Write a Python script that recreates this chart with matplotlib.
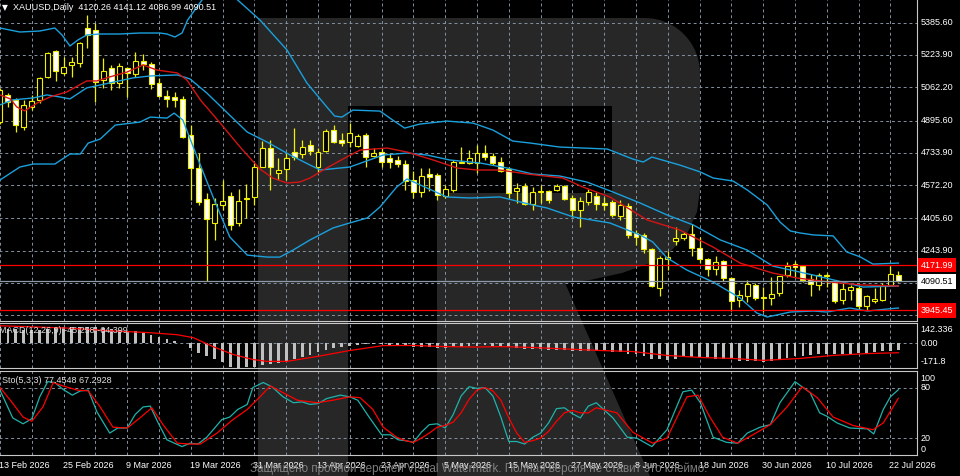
import numpy as np
import matplotlib
matplotlib.use("Agg")
import matplotlib.pyplot as plt
from matplotlib.patches import Polygon

plt.rcParams['font.family'] = ['Liberation Sans', 'DejaVu Sans']

# ---- candles XAUUSD daily (bar 0 = 13 Feb 2026) ----
opens = [4889, 5024, 4999, 4864, 4965, 4999, 5114, 5244, 5134, 5174,
         5184, 5359, 5349, 5099, 5159, 5084, 5159, 5129, 5195, 5179,
         5085, 5020, 5014, 5004, 4824, 4659, 4504, 4384, 4474, 4520,
         4384, 4504, 4514, 4665, 4760, 4634, 4654, 4740, 4729, 4774,
         4664, 4745, 4849, 4799, 4790, 4769, 4824, 4720, 4740, 4709,
         4699, 4679, 4599, 4540, 4627, 4624, 4519, 4549, 4685, 4682,
         4684, 4735, 4719, 4690, 4652, 4544, 4569, 4479, 4539, 4545,
         4549, 4569, 4507, 4449, 4490, 4519, 4485, 4490, 4420, 4469,
         4334, 4324, 4252, 4057, 4204, 4294, 4307, 4329, 4257, 4202,
         4150, 4192, 4108, 3999, 4019, 4074, 4010, 4007, 4031, 4124,
         4177, 4165, 4102, 4070, 4119, 4085, 3995, 4045, 4057, 3969,
         3990, 3999, 4074, 4120.26]
highs = [5059, 5034, 5009, 4999, 5024, 5115, 5240, 5249, 5215, 5215,
         5290, 5424, 5384, 5209, 5174, 5184, 5165, 5240, 5229, 5190,
         5109, 5049, 5040, 5019, 4874, 4734, 4534, 4509, 4599, 4540,
         4554, 4579, 4684, 4794, 4799, 4709, 4734, 4859, 4799, 4799,
         4759, 4854, 4874, 4835, 4884, 4829, 4834, 4759, 4759, 4734,
         4719, 4699, 4644, 4659, 4659, 4634, 4574, 4699, 4764, 4749,
         4774, 4774, 4734, 4715, 4665, 4585, 4584, 4565, 4574, 4549,
         4577, 4574, 4524, 4515, 4554, 4540, 4515, 4499, 4499, 4484,
         4349, 4334, 4259, 4215, 4240, 4364, 4340, 4379, 4312, 4207,
         4215, 4199, 4114, 4046, 4099, 4084, 4061, 4114, 4119, 4185,
         4194, 4174, 4129, 4132, 4134, 4099, 4089, 4074, 4065, 4024,
         4057, 4082, 4165, 4141.12]
lows = [4879, 4964, 4839, 4849, 4949, 4984, 5110, 5094, 5124, 5115,
        5165, 5259, 4989, 5059, 5049, 5059, 5015, 5115, 5149, 5054,
        5014, 4965, 4965, 4809, 4499, 4474, 4090, 4299, 4449, 4349,
        4369, 4409, 4474, 4664, 4549, 4599, 4599, 4699, 4709, 4724,
        4640, 4740, 4784, 4769, 4765, 4764, 4665, 4714, 4664, 4659,
        4665, 4549, 4509, 4514, 4544, 4499, 4509, 4540, 4684, 4679,
        4635, 4699, 4674, 4640, 4507, 4484, 4474, 4449, 4484, 4484,
        4544, 4499, 4412, 4365, 4474, 4449, 4449, 4415, 4399, 4307,
        4274, 4232, 4060, 4015, 4149, 4274, 4299, 4215, 4184, 4119,
        4124, 4094, 3944, 3961, 3986, 3999, 3935, 3974, 4019, 4112,
        4114, 4089, 4015, 4049, 4064, 3982, 3979, 3999, 3949, 3949,
        3982, 3990, 4065, 4086.99]
closes = [5049, 4989, 4874, 4974, 4995, 5109, 5234, 5144, 5165, 5190,
          5284, 5324, 5089, 5144, 5084, 5169, 5135, 5195, 5179, 5079,
          5019, 5004, 4999, 4814, 4659, 4490, 4404, 4479, 4495, 4374,
          4495, 4510, 4665, 4760, 4665, 4649, 4709, 4715, 4765, 4745,
          4740, 4844, 4789, 4784, 4834, 4819, 4715, 4735, 4687, 4690,
          4677, 4595, 4540, 4619, 4612, 4524, 4554, 4690, 4690, 4710,
          4734, 4712, 4685, 4645, 4532, 4557, 4479, 4540, 4545, 4499,
          4569, 4502, 4449, 4495, 4540, 4479, 4475, 4424, 4474, 4324,
          4315, 4252, 4065, 4207, 4210, 4310, 4327, 4257, 4204, 4150,
          4185, 4108, 3990, 4024, 4077, 4009, 4007, 4027, 4115, 4169,
          4162, 4099, 4077, 4124, 4124, 3994, 4052, 4060, 3966, 4015,
          4004, 4071, 4127, 4090.51]

# ---- Bollinger bands and moving average (bar index, price) ----
bb_up_idx = [0, 2.5, 5.0, 6.9, 7.8, 8.8, 9.8, 10.9, 12.6, 15.1, 17.6, 20.1, 21.0, 22.0, 22.9,
             23.6, 24.5, 25.4, 27.7, 29.9, 32.7, 36.1, 38.6, 41.1, 42.1, 43.0, 44.4, 47.8,
             49.4, 50.9, 52.8, 56.2, 59.5, 62.0, 64.5, 66.7, 70.4, 76.4, 79.6, 80.9, 82.0,
             85.5, 88.1, 89.7, 92.2, 94.0, 96.5, 98.1, 99.4, 100.6, 102.3, 104.8, 106.5,
             108.2, 109.8, 113]
bb_up_val = [5359, 5339, 5344, 5359, 5324, 5269, 5299, 5324, 5329, 5329, 5334, 5334, 5329, 5314, 5334,
             5399, 5449, 5499, 5574, 5499, 5399, 5249, 5084, 4964, 4918, 4913, 4948, 4943,
             4898, 4858, 4878, 4893, 4883, 4848, 4793, 4783, 4763, 4753, 4703, 4688, 4713,
             4673, 4638, 4608, 4593, 4548, 4473, 4388, 4343, 4333, 4323, 4318, 4238,
             4213, 4177, 4182]
bb_mid_idx = [0, 1.6, 4.2, 5.9, 7.5, 8.8, 10.9, 13.8, 16.7, 18.9, 22.3, 23.9, 26.0, 28.6, 31.1,
              33.6, 36.5, 39.0, 40.3, 44.0, 48.2, 51.2, 53.7, 56.6, 60.4, 63.8, 67.0, 70.4,
              73.8, 77.1, 80.5, 83.9, 87.2, 90.6, 94.0, 97.2, 102.3, 108.6, 113]
bb_mid_val = [4974, 4999, 5009, 5024, 5014, 5004, 5059, 5084, 5109, 5119, 5124, 5104, 5034, 4934, 4838,
              4788, 4723, 4673, 4648, 4663, 4723, 4733, 4723, 4698, 4683, 4658, 4628, 4618,
              4588, 4538, 4483, 4423, 4373, 4298, 4247, 4167, 4122, 4062, 4067]
bb_low_idx = [0, 2.5, 4.2, 6.9, 8.8, 10.1, 11.1, 12.6, 14.5, 17.6, 18.9, 21.0, 21.9, 23.0, 24.8,
              26.8, 28.9, 31.1, 33.6, 35.2, 36.9, 39.0, 41.9, 44.0, 46.2, 47.8, 49.9, 51.2,
              53.7, 56.2, 59.1, 62.9, 67.0, 68.8, 72.1, 76.7, 80.5, 82.1, 83.9, 86.4, 89.7,
              93.1, 95.2, 96.5, 97.7, 99.4, 102.3, 104.0, 106.9, 109.1, 111.6, 113]
bb_low_val = [4598, 4663, 4678, 4678, 4728, 4728, 4783, 4803, 4873, 4888, 4913, 4908, 4933, 4898, 4713,
              4513, 4313, 4222, 4212, 4212, 4248, 4298, 4358, 4383, 4408, 4463, 4563, 4603,
              4558, 4513, 4508, 4513, 4473, 4458, 4413, 4383, 4323, 4288, 4208, 4147, 4087,
              4007, 3932, 3912, 3922, 3937, 3942, 3937, 3957, 3942, 3952, 3957]
ma_idx = [0, 1.3, 2.1, 3.1, 4.7, 6.3, 8.4, 10.9, 12.2, 13.8, 16.0, 18.0, 19.7, 22.3, 23.5, 25.2,
          27.7, 30.2, 32.7, 34.3, 36.1, 37.7, 39.0, 41.1, 43.6, 45.3, 48.7, 51.2, 54.5, 57.5,
          60.0, 62.9, 66.3, 70.8, 73.3, 76.7, 81.4, 85.5, 89.7, 93.1, 97.2, 100.3, 104.4,
          108.6, 113]
ma_val = [5024, 5004, 4964, 4944, 4984, 5014, 5039, 5094, 5094, 5114, 5139, 5174, 5149, 5134, 5099, 4999,
          4883, 4763, 4653, 4608, 4583, 4588, 4608, 4658, 4713, 4748, 4758, 4738, 4698, 4658,
          4648, 4648, 4628, 4608, 4563, 4513, 4398, 4348, 4262, 4182, 4132, 4107, 4087,
          4072, 4067]

# ---- price levels ----
price_grid = [5385.60, 5223.90, 5062.20, 4895.60, 4733.90, 4572.20, 4405.60, 4243.90, 4082.20, 3920.50]
level_high = 4171.99
level_low = 3945.45
bid = 4090.51

# ---- MACD(12,26,9) ----
macd_hist = [98, 100, 97, 94, 92, 94, 100, 106, 110, 112, 114, 115, 110, 104, 98, 92, 88, 84, 72, 60,
             45, 32, 20, 5,
             -31, -65, -88, -111, -129, -160, -171.8, -165, -160, -150, -145, -135, -122, -108, -95,
             -78, -62, -45, -35, -24, -16, -9,
             -6, -5, -7, -9, -12, -17, -23, -25, -27, -31, -33, -28, -24, -20, -16, -14, -15, -18,
             -27, -32, -39, -41, -42, -45, -44, -46, -51, -52, -50, -52,
             -54, -61, -58, -76, -76, -88, -106, -111, -115, -106, -92, -92, -99, -99, -111, -111,
             -111, -122, -122, -122, -129, -122, -111, -99, -88, -88, -83, -76, -72, -76, -76, -76,
             -68, -64, -60, -55, -50, -45.258]
sig_idx = [0, 8.4, 13.8, 18.9, 22.3, 24.3, 26.8, 29.3, 31.8, 33.6, 36.1, 39.9, 44.0, 48.2, 52, 56,
           60, 63, 67, 71, 75.5, 79.6, 83.9, 88.1, 92.2, 96.0, 100.6, 104.8, 109.1, 113]
sig_val = [122, 106, 87, 74, 60, 40, -22, -76, -111, -124, -124, -90, -49, -15, -14, -22,
           -25, -22, -28, -38, -49, -56, -83, -97, -104, -117, -104, -83, -70, -64.399]
macd_max, macd_min = 142.336, -171.8

# ---- Stochastic(5,3,3) ----
sto_k_idx = [0, 1.6, 2.9, 4.0, 5.0, 6.0, 6.9, 7.9, 9.1, 10.1, 11.1, 12.2, 13.8, 14.8, 16.0, 17.0,
             18.0, 18.9, 19.9, 21.0, 22.9, 23.9, 24.9, 26.0, 27.9, 28.9, 29.9, 31.1, 31.8, 33.1,
             34.2, 35.6, 36.9, 38.0, 39.0, 40.0, 41.1, 42.8, 44.0, 45.0, 46.5, 48.0, 49.1, 50.1,
             51, 52, 53, 54, 55, 56, 57, 58, 59, 60, 61, 62, 63, 64, 65, 66, 67, 68, 69, 70, 71,
             72, 73, 74, 75,
             77.1, 78.9, 80.1, 82.0, 83.9, 85.9, 87.0, 88.1, 89.7, 91.4, 92.8, 94.0, 95.6, 96.9,
             98.1, 100.0, 101.9, 103.1, 104.0, 105.3, 106.9, 109.1, 109.9, 111.1, 112, 113]
sto_k_val = [77, 44, 37, 43, 69, 87, 86, 78, 71, 76, 77, 51, 26, 32, 32, 48,
             57, 58, 38, 18, 10, 14, 13, 21, 42, 45, 54, 60, 80, 86,
             81, 69, 62, 63, 60, 61, 67, 71, 69, 65, 44, 24, 24, 18,
             17, 15, 27, 36, 37, 32, 48, 70, 81, 79, 80, 70, 45, 16, 16, 13, 21, 26, 38, 55, 56,
             49, 44, 58, 62,
             44, 21, 20, 10, 30, 75, 77, 62, 21, 15, 14, 26, 33, 36,
             62, 87, 74, 50, 46, 38, 32, 31, 25, 54, 69, 77.4548]
sto_d_idx = [0, 1.3, 2.9, 4.0, 5.4, 6.7, 7.9, 9.7, 11.1, 12.6, 14.2, 16.0, 17.6, 19.1, 20.5, 22.3,
             23.9, 25.2, 27.3, 29.3, 31.1, 32.7, 34.0, 35.6, 37.4, 39.9, 41.9, 44.0, 45.3, 46.9,
             48.2, 49.9,
             51, 52, 53, 54, 55, 56, 57, 58, 59, 60, 61, 62, 63, 64, 65, 66, 67, 68, 69, 70, 71,
             72, 73, 74, 75,
             77.6, 79.6, 82.1, 83.9, 86.4, 87.8, 89.3, 90.9, 92.8, 94.7, 96.9, 99.0, 100.9, 102.8,
             104.8, 107.3, 109.8, 111.1, 113]
sto_d_val = [80, 65, 45, 40, 57, 86, 82, 77, 76, 57, 33, 32, 44, 56, 36, 14,
             13, 13, 26, 42, 54, 69, 82, 74, 65, 62, 65, 69, 68, 54,
             33, 21,
             17, 15, 20, 26, 33, 35, 39, 50, 66, 77, 80, 76, 65, 44, 26, 15, 17, 20, 28, 40, 50,
             53, 50, 50, 56,
             50, 27, 14, 20, 69, 71, 45, 21, 14, 24, 36, 57, 81, 68,
             45, 35, 30, 38, 67.2928]

date_labels = ["13 Feb 2026", "25 Feb 2026", "9 Mar 2026", "19 Mar 2026", "31 Mar 2026",
               "13 Apr 2026", "23 Apr 2026", "5 May 2026", "15 May 2026", "27 May 2026",
               "8 Jun 2026", "18 Jun 2026", "30 Jun 2026", "10 Jul 2026", "22 Jul 2026"]

# ---- layout (pixels) ----
W, H = 960, 476
BAR_PX = 7.95
RIGHT = 917
GRID = '#8391a0'
FRAME = '#c8c8c8'
FS = 6.5


def px_box(x0, y0, x1, y1):
    return [x0 / W, 1 - y1 / H, (x1 - x0) / W, (y1 - y0) / H]


def py_to_price(y):
    return 5385.6 - (y - 22.7) * 5.007


fig = plt.figure(figsize=(W / 100, H / 100), dpi=100, facecolor='black')

# watermark "R" shape behind everything
ang = np.linspace(np.pi / 2, 0, 12)
corner = [(645 + 55 * np.cos(a), 73 - 55 * np.sin(a)) for a in ang]
r_pts = ([(258, 18)] + corner +
         [(700, 190), (697, 212), (688, 232), (672, 250), (650, 263), (622, 273),
          (590, 280), (565, 283), (650, 476), (437, 476), (437, 193), (612, 193),
          (612, 106), (348, 106), (348, 476), (258, 476)])
r_fig = [(x / W, 1 - y / H) for x, y in r_pts]
fig.add_artist(Polygon(r_fig, closed=True, transform=fig.transFigure,
                       facecolor='#272727', edgecolor='none', zorder=-5))

ax = fig.add_axes(px_box(-1, -1, RIGHT, 320.5))
ax_m = fig.add_axes(px_box(-1, 322.8, RIGHT, 368.3))
ax_s = fig.add_axes(px_box(-1, 370.7, RIGHT, 455))

x_left = -1 / BAR_PX
x_right = RIGHT / BAR_PX
n = len(closes)
idx = np.arange(n)

for a in (ax, ax_m, ax_s):
    a.set_facecolor('none')
    a.set_xlim(x_left, x_right)
    a.set_xticks([])
    a.set_yticks([])
    for s in a.spines.values():
        s.set_color(FRAME)
        s.set_linewidth(0.8)
    a.spines['left'].set_visible(False)
    for g in range(0, n, 4):
        a.axvline(g, color=GRID, lw=0.7, ls=(0, (3, 3)), zorder=1)
ax.spines['top'].set_visible(False)

# ---- main price panel ----
ax.set_ylim(py_to_price(320.5), py_to_price(-1))
for lv in price_grid:
    ax.axhline(lv, color=GRID, lw=0.7, ls=(0, (3, 3)), zorder=1)

o = np.array(opens); hh = np.array(highs); ll = np.array(lows); c = np.array(closes)
ax.vlines(idx, ll, hh, color='#f0f000', lw=0.9, zorder=3)
bull = c >= o
body_lo = np.minimum(o, c)
body_h = np.maximum(np.abs(c - o), 1.5)
ax.bar(idx[bull], body_h[bull], bottom=body_lo[bull], width=0.62,
       facecolor='black', edgecolor='#f0f000', linewidth=0.8, zorder=4)
ax.bar(idx[~bull], body_h[~bull], bottom=body_lo[~bull], width=0.62,
       facecolor='white', edgecolor='#f0f000', linewidth=0.8, zorder=4)

bb_col = '#1aa0dc'
ax.plot(bb_up_idx, bb_up_val, color=bb_col, lw=1.0, zorder=5)
ax.plot(bb_mid_idx, bb_mid_val, color=bb_col, lw=1.0, zorder=5)
ax.plot(bb_low_idx, bb_low_val, color=bb_col, lw=1.0, zorder=5)
ax.plot(ma_idx, ma_val, color='#d41414', lw=1.0, zorder=5)

ax.axhline(level_high, color='#ff0000', lw=0.9, zorder=6)
ax.axhline(level_low, color='#ff0000', lw=0.9, zorder=6)
ax.axhline(bid, color='#8c9aa8', lw=0.9, zorder=6)

ytr = ax.get_yaxis_transform()
xlab = 1 + 3.5 / 918
for lv in price_grid:
    ax.text(xlab, lv, f"{lv:.2f}", transform=ytr, color='white', fontsize=FS,
            va='center', ha='left', clip_on=False, zorder=7)
for lv, fc, tc in ((level_high, '#ff0000', 'white'), (bid, 'white', 'black'),
                   (level_low, '#ff0000', 'white')):
    ax.text(xlab, lv, f"{lv:.2f}", transform=ytr, color=tc, fontsize=FS,
            va='center', ha='left', clip_on=False, zorder=8,
            bbox=dict(boxstyle='square,pad=0.3', fc=fc, ec='none'))

fig.text(2 / W, 1 - 7.5 / H, "\u25bc", color='white', fontsize=5.5, va='center',
         family='DejaVu Sans')
fig.text(13 / W, 1 - 7.5 / H,
         f"XAUUSD,Daily  {opens[-1]:.2f} {highs[-1]:.2f} {lows[-1]:.2f} {closes[-1]:.2f}",
         color='white', fontsize=FS, va='center')

# ---- MACD panel ----
ax_m.set_ylim(macd_min, macd_max)
ax_m.axhline(0, color=GRID, lw=0.7, ls=(0, (3, 3)), zorder=1)
ax_m.bar(idx, macd_hist, width=0.36, color='#c0c0c0', zorder=3)
ax_m.plot(sig_idx, sig_val, color='#ff0000', lw=0.9, zorder=4)
mt = ax_m.get_yaxis_transform()
ax_m.text(xlab, 1 - 7 / 45.5, f"{macd_max:.3f}", transform=ax_m.transAxes, color='white',
          fontsize=FS, va='center', clip_on=False)
ax_m.text(xlab, 0, "0.00", transform=mt, color='white', fontsize=FS, va='center', clip_on=False)
ax_m.text(xlab, 6.5 / 45.5, f"{macd_min:.1f}", transform=ax_m.transAxes, color='white',
          fontsize=FS, va='center', clip_on=False)
ax_m.text(0.1 / 918, 1 - 7.5 / 45.5, f"MACD(12,26,9) {macd_hist[-1]:.3f} {sig_val[-1]:.3f}",
          transform=ax_m.transAxes, color='#e0e0e0', fontsize=FS, va='center', zorder=6)

# ---- Stochastic panel ----
ax_s.set_ylim(0, 100)
for lv in (80, 20):
    ax_s.axhline(lv, color=GRID, lw=0.7, ls=(0, (3, 3)), zorder=1)
ax_s.plot(sto_k_idx, sto_k_val, color='#20b2aa', lw=0.9, zorder=4)
ax_s.plot(sto_d_idx, sto_d_val, color='#ff0000', lw=0.9, zorder=4)
st = ax_s.get_yaxis_transform()
ax_s.text(xlab, 1 - 7.5 / 84.3, "100", transform=ax_s.transAxes, color='white', fontsize=FS,
          va='center', clip_on=False)
ax_s.text(xlab, 80, "80", transform=st, color='white', fontsize=FS, va='center', clip_on=False)
ax_s.text(xlab, 20, "20", transform=st, color='white', fontsize=FS, va='center', clip_on=False)
ax_s.text(xlab, 6 / 84.3, "0", transform=ax_s.transAxes, color='white', fontsize=FS,
          va='center', clip_on=False)
ax_s.text(3 / 918, 1 - 9.5 / 84.3, f"Sto(5,3,3) {sto_k_val[-1]:.4f} {sto_d_val[-1]:.4f}",
          transform=ax_s.transAxes, color='#e0e0e0', fontsize=FS, va='center', zorder=6)

xt = ax_s.get_xaxis_transform()
for k, lab in enumerate(date_labels):
    ax_s.text(k * 8 - 0.12, -10 / 84.3, lab, transform=xt, color='white', fontsize=FS,
              va='center', ha='left', clip_on=False)

fig.text(250 / W, 1 - 468.5 / H,
         "Защищено пробной версией Visual Watermark. Полная версия не ставит это клеймо.",
         color='#8a8a8a', fontsize=8.4, va='center', ha='left', alpha=0.9)

fig.savefig('out.png', dpi=100, facecolor='black')
